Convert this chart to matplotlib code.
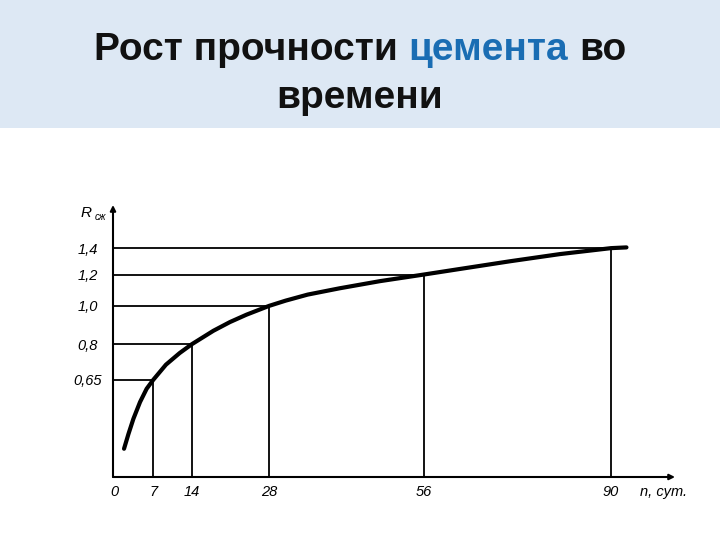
import matplotlib.pyplot as plt

plt.rcParams['font.family'] = ['Liberation Sans', 'DejaVu Sans']

# кривая роста прочности (сутки -> R)
days = [1.7, 2.5, 3.4, 4.6, 5.8, 7, 9.3, 11.8, 14, 17.9, 20.9, 23.9, 28,
        31, 35, 40.8, 48.1, 56, 62.6, 71.7, 80.7, 90, 92.8]
strength = [0.435, 0.474, 0.518, 0.571, 0.617, 0.65, 0.71, 0.76, 0.80,
            0.865, 0.91, 0.95, 1.00, 1.031, 1.068, 1.108, 1.155, 1.20, 1.24,
            1.297, 1.352, 1.40, 1.406]

# опорные сроки и значения
mark_days = [7, 14, 28, 56, 90]
mark_vals = [0.65, 0.8, 1.0, 1.2, 1.4]
y_labels = ["0,65", "0,8", "1,0", "1,2", "1,4"]
x_ticks = [0] + mark_days
x_labels = ["0", "7", "14", "28", "56", "90"]

fig = plt.figure(figsize=(7.2, 5.4), dpi=100)

# шапка слайда
hax = fig.add_axes([0, 1 - 128 / 540, 1, 128 / 540])
hax.set_facecolor('#dde8f4')
hax.set_xlim(0, 1)
hax.set_ylim(0, 1)
hax.set_xticks([])
hax.set_yticks([])
for s in hax.spines.values():
    s.set_visible(False)

tkw = dict(fontsize=28, fontweight='bold')
t1 = hax.text(0.1, 1 - 50 / 128, "Рост прочности", va='center', ha='left',
              color='#111111', **tkw)
t2 = hax.annotate("цемента", xy=(1, 0), xycoords=t1, xytext=(7.8, 0),
                  textcoords='offset points', va='bottom', ha='left',
                  color='#1a6db3', **tkw)
t3 = hax.annotate("во", xy=(1, 0), xycoords=t2, xytext=(7.8, 0),
                  textcoords='offset points', va='bottom', ha='left',
                  color='#111111', **tkw)
hax.text(0.5, 1 - 98 / 128, "времени", va='center', ha='center',
         color='#111111', **tkw)

# график
ax = fig.add_axes([113 / 720, 1 - 477 / 540, 562 / 720, 272 / 540])
ax.set_yscale('log')
x_lo, x_hi = -0.3, 101.6
y_lo, y_hi = 0.369, 1.80
ax.set_xlim(x_lo, x_hi)
ax.set_ylim(y_lo, y_hi)

ax.hlines(mark_vals, x_lo, mark_days, color='black', lw=1.3)
ax.vlines(mark_days, y_lo, mark_vals, color='black', lw=1.3)
ax.plot(days, strength, color='black', lw=3, solid_capstyle='round')

for s in ax.spines.values():
    s.set_visible(False)
ax.annotate('', xy=(0, 1), xytext=(0, 0), xycoords='axes fraction',
            arrowprops=dict(arrowstyle='-|>', color='black', lw=1.5,
                            mutation_scale=8, shrinkA=0, shrinkB=0))
ax.annotate('', xy=(1, 0), xytext=(0, 0), xycoords='axes fraction',
            arrowprops=dict(arrowstyle='-|>', color='black', lw=1.5,
                            mutation_scale=8, shrinkA=0, shrinkB=0))

ax.set_xticks(x_ticks, x_labels, fontsize=10.5, style='italic')
ax.set_yticks(mark_vals, y_labels, fontsize=10.5, style='italic')
ax.yaxis.set_minor_locator(plt.NullLocator())
ax.tick_params(axis='x', length=0, pad=6)
ax.tick_params(axis='y', length=0, pad=18)
for lbl in ax.get_yticklabels():
    lbl.set_ha('center')

ax.text(-0.048, 0.971, "R", transform=ax.transAxes, style='italic',
        fontsize=11, ha='center', va='center')
ax.text(-0.022, 0.956, "сж", transform=ax.transAxes, style='italic',
        fontsize=7, ha='center', va='center')
ax.text(0.938, -0.055, "n, сут.", transform=ax.transAxes, style='italic',
        fontsize=10.5, ha='left', va='center')

# центрируем первую строку заголовка
fig.canvas.draw()
r = fig.canvas.get_renderer()
b1 = t1.get_window_extent(r)
b3 = t3.get_window_extent(r)
w = b3.x1 - b1.x0
t1.set_x((720 - w) / 2 / 720)

fig.savefig('out.png', dpi=100)
